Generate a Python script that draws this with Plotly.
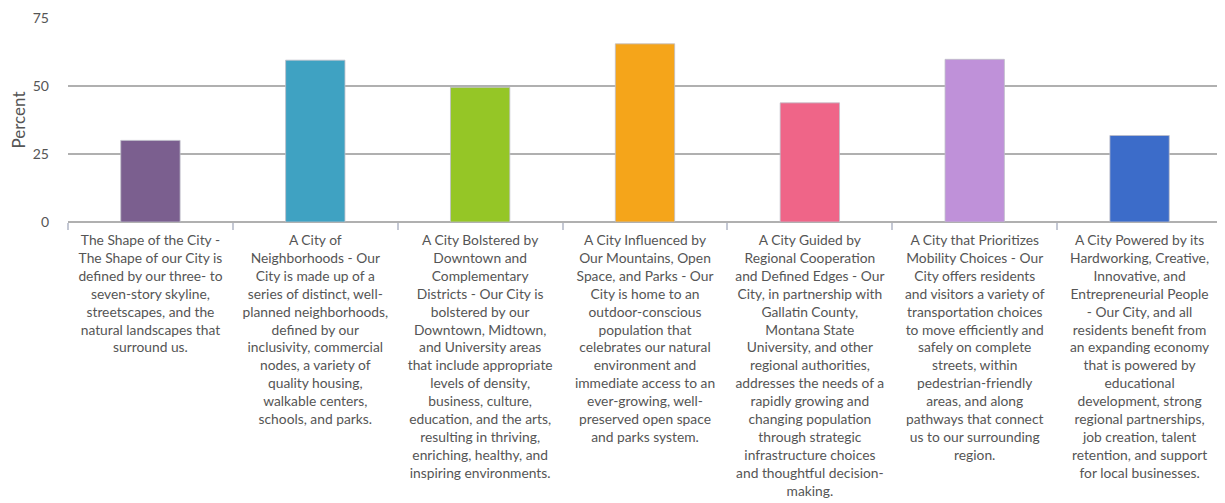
import plotly.graph_objects as go

categories = [
    "The Shape of the City -<br>The Shape of our City is<br>defined by our three- to<br>seven-story skyline,<br>streetscapes, and the<br>natural landscapes that<br>surround us.",
    "A City of<br>Neighborhoods - Our<br>City is made up of a<br>series of distinct, well-<br>planned neighborhoods,<br>defined by our<br>inclusivity, commercial<br>nodes, a variety of<br>quality housing,<br>walkable centers,<br>schools, and parks.",
    "A City Bolstered by<br>Downtown and<br>Complementary<br>Districts - Our City is<br>bolstered by our<br>Downtown, Midtown,<br>and University areas<br>that include appropriate<br>levels of density,<br>business, culture,<br>education, and the arts,<br>resulting in thriving,<br>enriching, healthy, and<br>inspiring environments.",
    "A City Influenced by<br>Our Mountains, Open<br>Space, and Parks - Our<br>City is home to an<br>outdoor-conscious<br>population that<br>celebrates our natural<br>environment and<br>immediate access to an<br>ever-growing, well-<br>preserved open space<br>and parks system.",
    "A City Guided by<br>Regional Cooperation<br>and Defined Edges - Our<br>City, in partnership with<br>Gallatin County,<br>Montana State<br>University, and other<br>regional authorities,<br>addresses the needs of a<br>rapidly growing and<br>changing population<br>through strategic<br>infrastructure choices<br>and thoughtful decision-<br>making.",
    "A City that Prioritizes<br>Mobility Choices - Our<br>City offers residents<br>and visitors a variety of<br>transportation choices<br>to move efficiently and<br>safely on complete<br>streets, within<br>pedestrian-friendly<br>areas, and along<br>pathways that connect<br>us to our surrounding<br>region.",
    "A City Powered by its<br>Hardworking, Creative,<br>Innovative, and<br>Entrepreneurial People<br>- Our City, and all<br>residents benefit from<br>an expanding economy<br>that is powered by<br>educational<br>development, strong<br>regional partnerships,<br>job creation, talent<br>retention, and support<br>for local businesses.",
]
values = [30, 59.5, 49.5, 65.5, 43.8, 59.8, 31.8]
colors = ["#7B5F8F", "#3FA2C2", "#95C626", "#F5A51A", "#EF6588", "#BF91D9", "#3C6CC9"]
y_ticks = [0, 25, 50, 75]

fig = go.Figure(go.Bar(
    x=categories, y=values,
    marker=dict(color=colors, line=dict(color="rgba(190,190,200,0.8)", width=1)),
    hoverinfo="skip",
))

fig.update_layout(
    width=1217, height=495,
    margin=dict(l=60, r=3, t=10, b=281),
    paper_bgcolor="white", plot_bgcolor="white",
    bargap=0.64,
    showlegend=False,
    font=dict(family="Lato, 'Open Sans', sans-serif", color="#555555"),
)
fig.update_xaxes(
    automargin=False,
    tickson="boundaries", ticks="outside", ticklen=7, tickcolor="#c4c8d4", tickwidth=2,
    tickangle=0, tickfont=dict(size=13.8, color="#555555"), ticklabelstandoff=8,
    showline=False, showgrid=False,
)
fig.update_yaxes(
    automargin=False,
    range=[0, 75], tickvals=y_ticks, showgrid=True, gridcolor="#b0b0b0", gridwidth=1.5,
    zeroline=True, zerolinecolor="#b0b0b0", zerolinewidth=1.5,
    tickfont=dict(size=14, color="#555555"), ticks="", ticklabelstandoff=18,
    title=dict(text="Percent", font=dict(size=17, color="#555555"), standoff=6),
)

fig.write_html("out.html")
